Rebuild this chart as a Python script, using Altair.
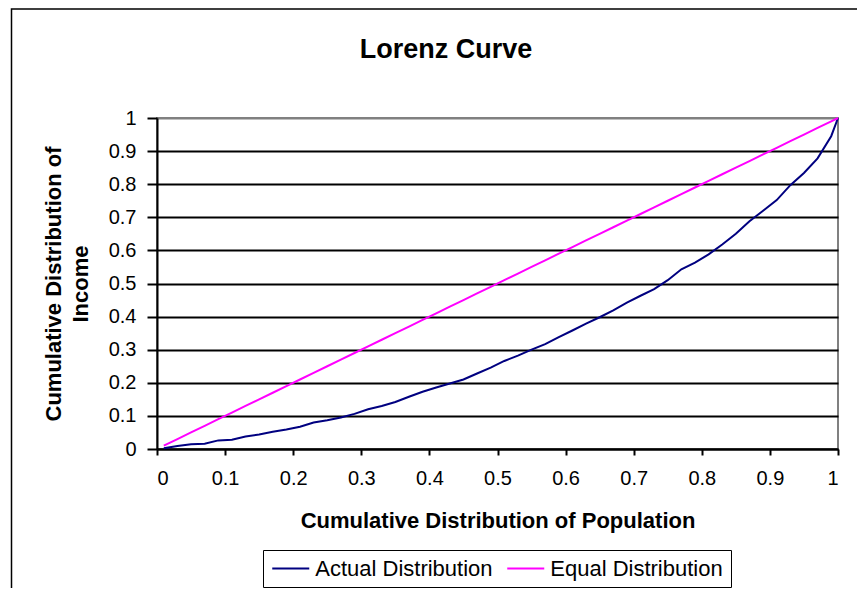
import altair as alt
import pandas as pd

population = [0.01, 0.03, 0.05, 0.07, 0.09, 0.11, 0.13, 0.15, 0.17, 0.19,
              0.21, 0.23, 0.25, 0.27, 0.29, 0.31, 0.33, 0.35, 0.37, 0.39,
              0.41, 0.43, 0.45, 0.47, 0.49, 0.51, 0.53, 0.55, 0.57, 0.59,
              0.61, 0.63, 0.65, 0.67, 0.69, 0.71, 0.73, 0.75, 0.77, 0.79,
              0.81, 0.83, 0.85, 0.87, 0.89, 0.91, 0.93, 0.95, 0.97, 0.99, 1.00]
actual = [0.002, 0.009, 0.014, 0.016, 0.026, 0.028, 0.038, 0.044, 0.052, 0.059,
          0.067, 0.080, 0.087, 0.095, 0.106, 0.120, 0.130, 0.142, 0.158, 0.173,
          0.186, 0.198, 0.210, 0.228, 0.246, 0.266, 0.282, 0.300, 0.317, 0.338,
          0.358, 0.379, 0.398, 0.419, 0.442, 0.463, 0.483, 0.510, 0.543, 0.563,
          0.588, 0.618, 0.650, 0.688, 0.720, 0.752, 0.797, 0.834, 0.878, 0.945, 1.000]
equal = [0.01, 0.03, 0.05, 0.07, 0.09, 0.11, 0.13, 0.15, 0.17, 0.19,
         0.21, 0.23, 0.25, 0.27, 0.29, 0.31, 0.33, 0.35, 0.37, 0.39,
         0.41, 0.43, 0.45, 0.47, 0.49, 0.51, 0.53, 0.55, 0.57, 0.59,
         0.61, 0.63, 0.65, 0.67, 0.69, 0.71, 0.73, 0.75, 0.77, 0.79,
         0.81, 0.83, 0.85, 0.87, 0.89, 0.91, 0.93, 0.95, 0.97, 0.99, 1.00]
series_names = ["Actual Distribution", "Equal Distribution"]
series_colors = ["#000080", "#FF00FF"]
tick_values = [0, 0.1, 0.2, 0.3, 0.4, 0.5, 0.6, 0.7, 0.8, 0.9, 1]
chart_title = "Lorenz Curve"

rows = []
for name, vals in zip(series_names, [actual, equal]):
    for i, (p, v) in enumerate(zip(population, vals)):
        rows.append({"pop": p, "inc": v, "series": name, "order": i})
df = pd.DataFrame(rows)

FONT = "Liberation Sans"
W, H = 681, 331

frame = alt.Chart(pd.DataFrame({"a": [0]})).mark_rect(
    fillOpacity=0, stroke="black", strokeWidth=1.5
).encode(
    x=alt.value(-145.5), x2=alt.value(W + 80),
    y=alt.value(-109), y2=alt.value(H + 250)
)

title = alt.Chart(pd.DataFrame({"t": [chart_title]})).mark_text(
    font=FONT, fontSize=27, fontWeight="bold", color="black",
    align="center", baseline="alphabetic"
).encode(
    text="t:N", x=alt.value(289), y=alt.value(-60)
)

lines = alt.Chart(df).mark_line(strokeWidth=2).encode(
    x=alt.X("pop:Q", scale=alt.Scale(domain=[0, 1], nice=False),
            axis=alt.Axis(values=tick_values, format="~g", grid=False,
                          title="Cumulative Distribution of Population",
                          tickSize=6, tickColor="black", tickWidth=2,
                          domainColor="black", domainWidth=2,
                          labelFontSize=20, labelPadding=13, labelColor="black",
                          titleFontSize=22, titleFontWeight="bold", titlePadding=22,
                          titleColor="black")),
    y=alt.Y("inc:Q", scale=alt.Scale(domain=[0, 1], nice=False),
            axis=alt.Axis(values=tick_values, format="~g", grid=True,
                          gridColor={"condition": {"test": "datum.value >= 1", "value": "#808080"}, "value": "black"},
                          gridWidth=2,
                          title=["Cumulative Distribution of", "Income"],
                          tickSize=10, tickColor="black", tickWidth=2,
                          domainColor="black", domainWidth=2,
                          labelFontSize=20, labelPadding=11, labelColor="black",
                          titleFontSize=22, titleFontWeight="bold", titlePadding=16,
                          titleColor="black", titleLineHeight=27)),
    color=alt.Color("series:N",
                    scale=alt.Scale(domain=series_names, range=series_colors),
                    legend=alt.Legend(title=None, orient="none", legendX=106, legendY=432,
                                      direction="horizontal", strokeColor="black",
                                      padding=7.5, symbolType="M-2,0H2", symbolSize=342.25,
                                      symbolOffset=9.25, symbolStrokeWidth=2,
                                      labelFontSize=22, labelLimit=0,
                                      labelOffset=13.5, columnPadding=9, labelColor="black")),
    order="order:Q"
)

chart = alt.layer(frame, title, lines).properties(
    width=W, height=H,
    autosize=alt.AutoSizeParams(type="none"),
    padding={"left": 149, "top": 110, "right": 19, "bottom": 139}
).configure(font=FONT).configure_view(stroke="#808080", strokeWidth=2)

chart.save("out.html", embed_options={"renderer": "svg", "actions": False})
